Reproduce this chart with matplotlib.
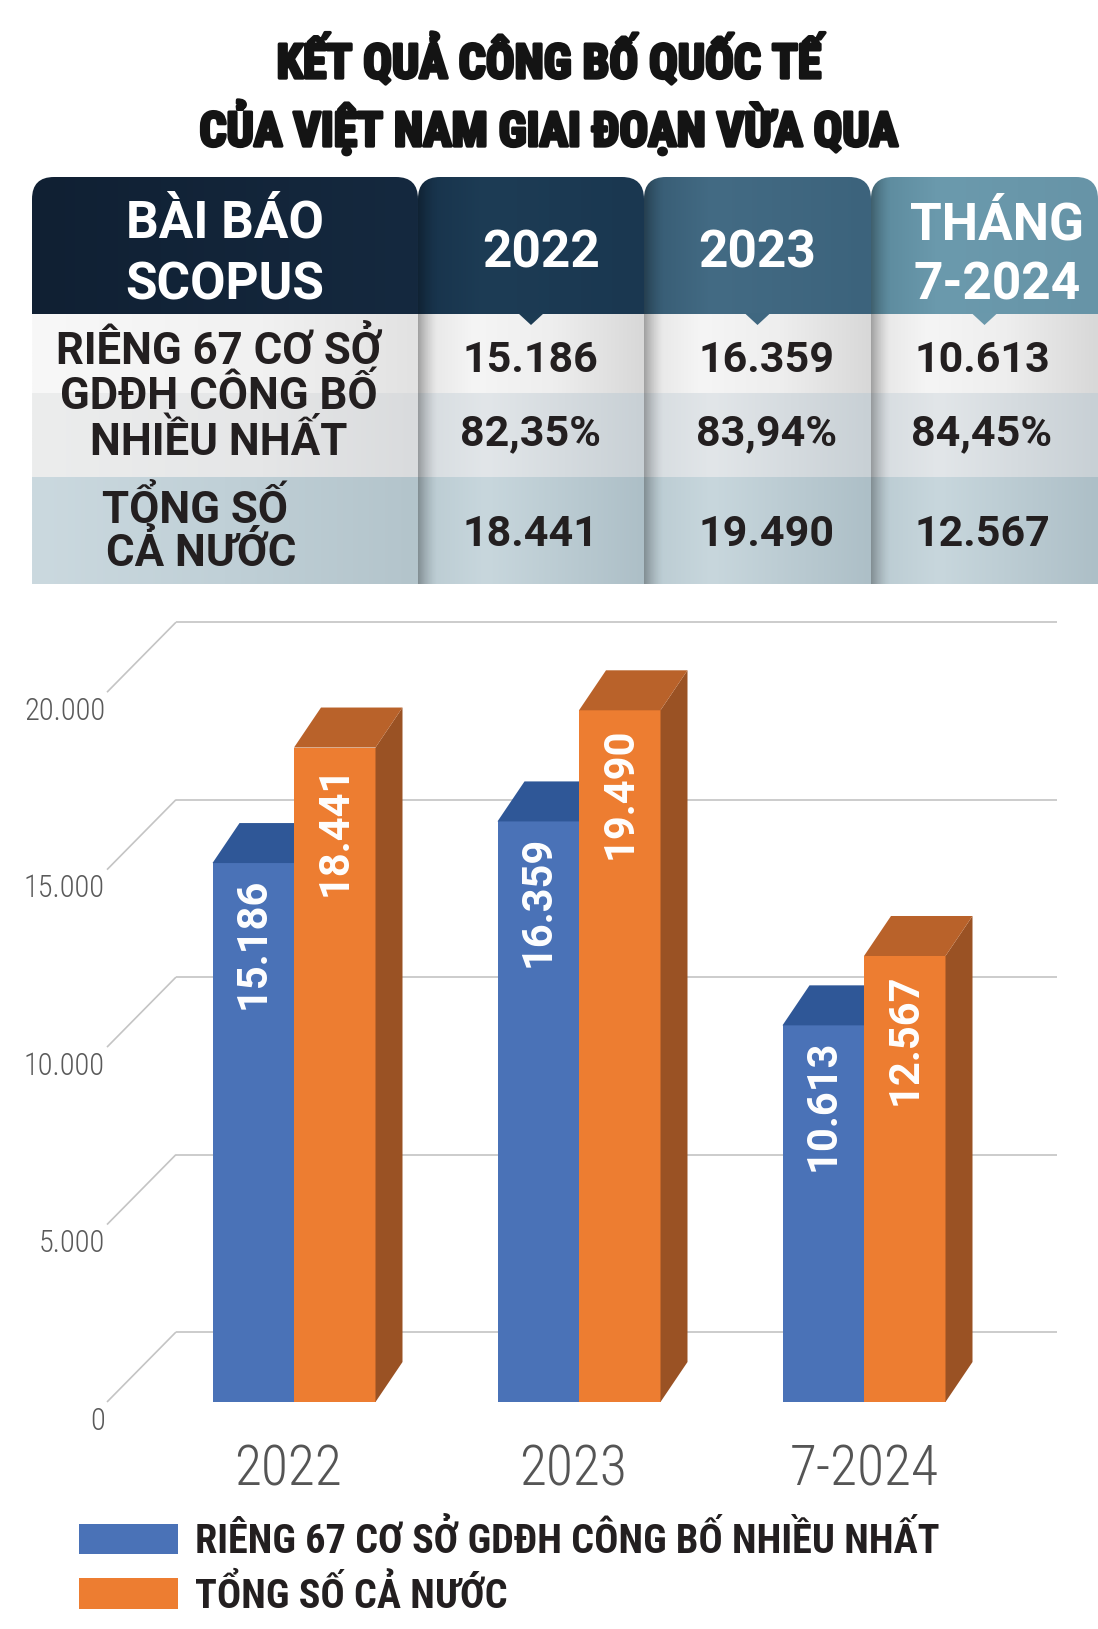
import numpy as np
import matplotlib
matplotlib.use("Agg")
import matplotlib.pyplot as plt
from matplotlib import font_manager as fm
from matplotlib.patches import FancyBboxPatch, Polygon, Patch
from matplotlib.colors import to_rgb
import matplotlib.patheffects as pe

# ---------------- data ----------------
title_lines = ["KẾT QUẢ CÔNG BỐ QUỐC TẾ", "CỦA VIỆT NAM GIAI ĐOẠN VỪA QUA"]
header_label = ["BÀI BÁO", "SCOPUS"]
table_years = [["2022"], ["2023"], ["THÁNG", "7-2024"]]
row_label_top = ["RIÊNG 67 CƠ SỞ", "GDĐH CÔNG BỐ", "NHIỀU NHẤT"]
row_label_total = ["TỔNG SỐ", "CẢ NƯỚC"]
categories = ["2022", "2023", "7-2024"]
top67 = [15186, 16359, 10613]
total = [18441, 19490, 12567]
share = [82.35, 83.94, 84.45]
yticks = [0, 5000, 10000, 15000, 20000]
series_names = ["RIÊNG 67 CƠ SỞ GDĐH CÔNG BỐ NHIỀU NHẤT", "TỔNG SỐ CẢ NƯỚC"]


def fmt_int(v):
    return f"{v:,}".replace(",", ".")


def fmt_pct(p):
    return f"{p:.2f}".replace(".", ",") + "%"


# ---------------- fonts ----------------
names = {f.name for f in fm.fontManager.ttflist}


def pick(cands):
    for c in cands:
        if c in names:
            return c
    return "DejaVu Sans"


NARROW = pick(["Roboto Condensed", "Liberation Sans Narrow", "Open Sans Condensed",
               "DejaVu Sans Condensed", "Roboto"])
BOLD = pick(["Roboto", "Liberation Sans", "DejaVu Sans"])

W, H = 1098, 1629
fig = plt.figure(figsize=(W / 100, H / 100), dpi=100)
fig.patch.set_facecolor("white")

DARK = "#231f20"

# ---------------- title ----------------
for txt, base in zip(title_lines, [78, 146]):
    fig.text(0.5, 1 - base / H, txt, ha="center", va="baseline",
             family=NARROW, weight="bold", size=34.3, color="#141414",
             path_effects=[pe.withStroke(linewidth=2.4, foreground="#141414")])

# ---------------- table ----------------
T_TOP, T_BOT = 170, 590
axt = fig.add_axes([0, 1 - T_BOT / H, 1, (T_BOT - T_TOP) / H])
axt.set_axis_off()


def hgrad(ax, x0, x1, y0, y1, stops, clip=None, z=1):
    n = 256
    xs = np.linspace(0, 1, n)
    pos = np.array([p for p, _ in stops])
    cols = np.array([to_rgb(c) for _, c in stops])
    img = np.stack([np.interp(xs, pos, cols[:, k]) for k in range(3)], axis=-1)[None, :, :]
    im = ax.imshow(img, extent=(x0, x1, y1, y0), aspect="auto", zorder=z,
                   interpolation="bilinear")
    if clip is not None:
        im.set_clip_path(clip)
    return im


def shadow(ax, x0, y0, y1, width, clip=None, z=3, alpha=0.30):
    n = 64
    a = np.linspace(alpha, 0, n) ** 1.5 / alpha ** 0.5
    img = np.zeros((1, n, 4))
    img[..., 3] = a
    im = ax.imshow(img, extent=(x0, x0 + width, y1, y0), aspect="auto", zorder=z,
                   interpolation="bilinear")
    if clip is not None:
        im.set_clip_path(clip)


col_edges = [32, 418, 644, 871, 1098]
hdr_top, hdr_bot = 177, 314
row_edges = [314, 393, 477, 584]
hdr_colors = [
    [(0, "#102033"), (1, "#15293f")],
    [(0, "#17324a"), (0.3, "#1d3c55"), (1, "#1a3750")],
    [(0, "#365a72"), (0.3, "#436b84"), (1, "#3c637c")],
    [(0, "#5a889b"), (0.3, "#6b9aad"), (1, "#6794a7")],
]
ptr_colors = ["#1c3b53", "#3f6780", "#6a98ab"]
row_stops_year = [
    [(0, "#e4e4e4"), (0.25, "#f5f5f5"), (0.6, "#eeeeee"), (1, "#d8d8d8")],
    [(0, "#d5dbdf"), (0.3, "#e2e6e9"), (1, "#c8d0d5")],
    [(0, "#b9cad1"), (0.3, "#c8d7dd"), (1, "#adbfc7")],
]
row_stops_left = [
    [(0, "#f8f8f8"), (0.6, "#f1f1f1"), (1, "#e2e2e2")],
    [(0, "#eceded"), (0.6, "#e5e6e7"), (1, "#d9dbdd")],
    [(0, "#cbd9df"), (0.5, "#c0d0d7"), (1, "#b3c4cb")],
]

for c in range(4):
    x0, x1 = col_edges[c], col_edges[c + 1]
    clip = FancyBboxPatch((x0, hdr_top), x1 - x0, 600, boxstyle="round,pad=0,rounding_size=22",
                          facecolor="none", edgecolor="none")
    axt.add_patch(clip)
    hgrad(axt, x0, x1, hdr_top, hdr_bot, hdr_colors[c], clip=clip, z=1)
    stops = row_stops_left if c == 0 else row_stops_year
    for r in range(3):
        hgrad(axt, x0, x1, row_edges[r], row_edges[r + 1], stops[r], z=1)
    if c > 0:
        shadow(axt, x0, hdr_top, row_edges[-1], 20, clip=clip, z=2)

# pointers under the year headers
for c in range(1, 4):
    cx = (col_edges[c] + col_edges[c + 1]) / 2
    axt.add_patch(Polygon([(cx - 13, hdr_bot - 1), (cx + 13, hdr_bot - 1), (cx, hdr_bot + 11)],
                          closed=True, facecolor=ptr_colors[c - 1], edgecolor="none", zorder=4))

# header texts
HFS = 37
for line, base in zip(header_label, [238, 299]):
    axt.text(225, base, line, ha="center", va="baseline", family=BOLD, weight="bold",
             size=HFS, color="white", zorder=5)
year_baselines = {1: [268], 2: [239, 299]}
header_cx = [541, 757, 997]
val_cx = [530, 767, 982]
for c, lines in enumerate(table_years):
    for line, base in zip(lines, year_baselines[len(lines)]):
        axt.text(header_cx[c], base, line, ha="center", va="baseline", family=BOLD,
                 weight="bold", size=HFS, color="white", zorder=5)

# values
VFS = 31
for i in range(3):
    axt.text(val_cx[i], 372, fmt_int(top67[i]), ha="center", va="baseline", family=BOLD,
             weight="bold", size=VFS, color=DARK, zorder=5)
    axt.text(val_cx[i], 445, fmt_pct(share[i]), ha="center", va="baseline", family=BOLD,
             weight="bold", size=VFS, color=DARK, zorder=5)
    axt.text(val_cx[i], 546, fmt_int(total[i]), ha="center", va="baseline", family=BOLD,
             weight="bold", size=VFS, color=DARK, zorder=5)

for line, base in zip(row_label_top, [364, 409, 455]):
    axt.text(219, base, line, ha="center", va="baseline", family=BOLD, weight="bold",
             size=31.5, color=DARK, zorder=5)
for line, base, cx in zip(row_label_total, [523, 566], [195, 201]):
    axt.text(cx, base, line, ha="center", va="baseline", family=BOLD, weight="bold",
             size=31.5, color=DARK, zorder=5)

axt.set_xlim(0, W)
axt.set_ylim(T_BOT, T_TOP)

# ---------------- 3D-look bar chart ----------------
C_TOP, C_BOT = 590, 1500
ax = fig.add_axes([0, 1 - C_BOT / H, 1, (C_BOT - C_TOP) / H])
ax.set_axis_off()
PX_X = 285.0          # pixels per category step
X0_PX = 294.0         # pixel x of first category
PX_Y = 0.03549        # pixels per value unit
Y0_PX = 1402.0        # pixel y of value 0 (front plane)
ax.set_xlim(-X0_PX / PX_X, (W - X0_PX) / PX_X)
ax.set_ylim((Y0_PX - C_BOT) / PX_Y, (Y0_PX - C_TOP) / PX_Y)

BW = 81.5 / PX_X
DX = 27 / PX_X
DY = 40 / PX_Y
WALL_X = (107 - X0_PX) / PX_X
WALL_DX = 69 / PX_X
WALL_DY = 70 / PX_Y
WALL_R = (1057 - X0_PX) / PX_X
GRID = "#c4c4c4"

for v in yticks:
    ax.plot([WALL_X, WALL_X + WALL_DX], [v, v + WALL_DY], color=GRID, lw=1.2, zorder=1,
            solid_capstyle="butt")
    ax.plot([WALL_X + WALL_DX, WALL_R], [v + WALL_DY, v + WALL_DY], color=GRID, lw=1.2,
            zorder=1, solid_capstyle="butt")
    ax.text((105 - X0_PX) / PX_X, v - 780, fmt_int(v), ha="right", va="baseline",
            family=NARROW, weight="light", size=22, color="#5a5a5a")

BLUE, BLUE_TOP = "#4a72b7", "#2f5797"
ORANGE, ORANGE_TOP, ORANGE_SIDE = "#ed7d31", "#b9622a", "#9a5224"

xs = np.arange(len(categories))
ax.bar(xs - BW, top67, width=BW, align="edge", color=BLUE, linewidth=0, zorder=2)
ax.bar(xs, total, width=BW, align="edge", color=ORANGE, linewidth=0, zorder=3)
for i in xs:
    h1, h2 = top67[i], total[i]
    ax.add_patch(Polygon([(i - BW, h1), (i, h1), (i + DX, h1 + DY), (i - BW + DX, h1 + DY)],
                         closed=True, facecolor=BLUE_TOP, edgecolor="none", zorder=2))
    ax.add_patch(Polygon([(i + BW, 0), (i + BW, h2), (i + BW + DX, h2 + DY), (i + BW + DX, DY)],
                         closed=True, facecolor=ORANGE_SIDE, edgecolor="none", zorder=3))
    ax.add_patch(Polygon([(i, h2), (i + BW, h2), (i + BW + DX, h2 + DY), (i + DX, h2 + DY)],
                         closed=True, facecolor=ORANGE_TOP, edgecolor="none", zorder=3))
    ax.text(i - BW / 2, h1 - 400, fmt_int(h1), rotation=90, ha="center", va="top",
            family=BOLD, weight="bold", size=30, color="white", zorder=6)
    ax.text(i + BW / 2, h2 - 480, fmt_int(h2), rotation=90, ha="center", va="top",
            family=BOLD, weight="bold", size=30, color="white", zorder=6)
    ax.text(i - 0.02 + (0.02 if i == 2 else 0), (Y0_PX - 1486) / PX_Y, categories[i],
            ha="center", va="baseline", family=NARROW, weight="light", size=40,
            color="#555555")

# ---------------- legend ----------------
handles = [Patch(facecolor=BLUE, edgecolor="none"), Patch(facecolor=ORANGE, edgecolor="none")]
fig.legend(handles, series_names, loc="upper left", bbox_to_anchor=(79 / W, 1 - 1521 / H),
           frameon=False, prop=fm.FontProperties(family=NARROW, weight="bold", size=29),
           labelcolor=DARK, handlelength=2.45, handleheight=0.8, handletextpad=0.42,
           labelspacing=0.36, borderpad=0, borderaxespad=0)

fig.savefig("out.png", dpi=100, facecolor="white")
